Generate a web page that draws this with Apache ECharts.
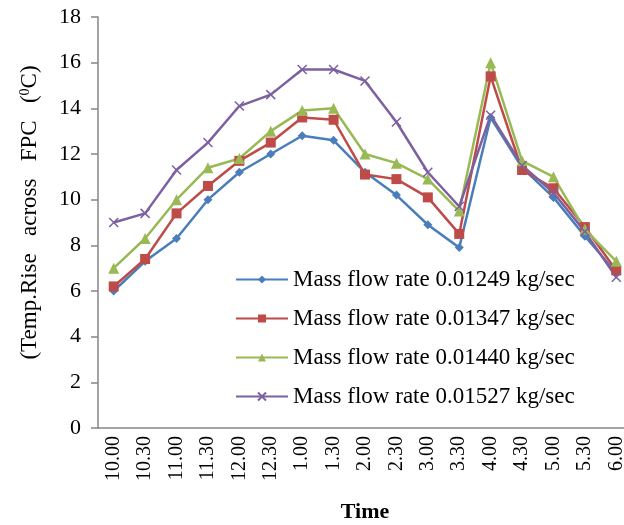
<!DOCTYPE html>
<html><head><meta charset="utf-8">
<script src="https://cdn.jsdelivr.net/npm/echarts@6/dist/echarts.min.js"></script>
<style>html,body{margin:0;padding:0;background:#fff}#c{width:624px;height:525px}</style>
</head><body><div id="c"></div>
<script>
const categories = ["10.00","10.30","11.00","11.30","12.00","12.30","1.00","1.30","2.00","2.30","3.00","3.30","4.00","4.30","5.00","5.30","6.00"];
const seriesNames = ["Mass flow rate 0.01249 kg/sec","Mass flow rate 0.01347 kg/sec","Mass flow rate 0.01440 kg/sec","Mass flow rate 0.01527 kg/sec"];
const flow01249 = [6.0,7.3,8.3,10.0,11.2,12.0,12.8,12.6,11.2,10.2,8.9,7.9,13.6,11.4,10.1,8.4,6.8];
const flow01347 = [6.2,7.4,9.4,10.6,11.7,12.5,13.6,13.5,11.1,10.9,10.1,8.5,15.4,11.3,10.5,8.8,6.9];
const flow01440 = [7.0,8.3,10.0,11.4,11.8,13.0,13.9,14.0,12.0,11.6,10.9,9.5,16.0,11.7,11.0,8.7,7.3];
const flow01527 = [9.0,9.4,11.3,12.5,14.1,14.6,15.7,15.7,15.2,13.4,11.2,9.7,13.7,11.5,10.3,8.6,6.6];
const colors = ['#4a7ebb','#be4b48','#98b954','#7d60a0'];
const symbols = ['diamond','rect','triangle','path://M0,0 L10,10 M10,0 L0,10'];
const sizes = [9,10,11,9];
const dataSets = [flow01249, flow01347, flow01440, flow01527];

const chart = echarts.init(document.getElementById('c'), null, {renderer:'canvas'});
const font = 'Liberation Serif';
chart.setOption({
  animation:false,
  textStyle:{fontFamily:font},
  grid:{left:98, top:17, width:534, height:411, outerBoundsMode:'none', containLabel:false},
  legend:{
    orient:'vertical', left:230, top:263, itemGap:16, itemWidth:52, itemHeight:10,
    textStyle:{fontFamily:font, fontSize:23, color:'#000'},
    data: seriesNames
  },
  xAxis:{
    type:'category', data:categories, boundaryGap:true,
    axisLine:{lineStyle:{color:'#868686', width:1.5}},
    axisTick:{show:false},
    axisLabel:{rotate:90, fontFamily:font, fontSize:20, color:'#000', margin:8},
    name:'Time', nameLocation:'middle', nameGap:73,
    nameTextStyle:{fontFamily:font, fontSize:22, fontWeight:'bold', color:'#000'}
  },
  yAxis:{
    type:'value', min:0, max:18, interval:2,
    splitLine:{show:false},
    axisLine:{show:true, lineStyle:{color:'#868686', width:1.5}},
    axisTick:{show:true, length:7, lineStyle:{color:'#868686', width:1.5}},
    axisLabel:{fontFamily:font, fontSize:22, color:'#000', margin:17},
    name:'(Temp.Rise   across   FPC   ({s|0}C)', nameLocation:'middle', nameGap:56, nameRotate:90,
    nameTextStyle:{fontFamily:font, fontSize:23, color:'#000', padding:[0,0,0,20], rich:{s:{fontFamily:font, fontSize:14, verticalAlign:'top', padding:[0,0,10,0], color:'#000'}}}
  },
  series: dataSets.map((d,i)=>({
    name:seriesNames[i], type:'line', data:d,
    symbol:symbols[i], symbolSize:sizes[i], showAllSymbol:true,
    lineStyle:{color:colors[i], width:2.5},
    itemStyle: i===3 ? {color:'none', borderColor:colors[i], borderWidth:1.5} : {color:colors[i]},
    emphasis:{disabled:true}
  }))
});
</script></body></html>
